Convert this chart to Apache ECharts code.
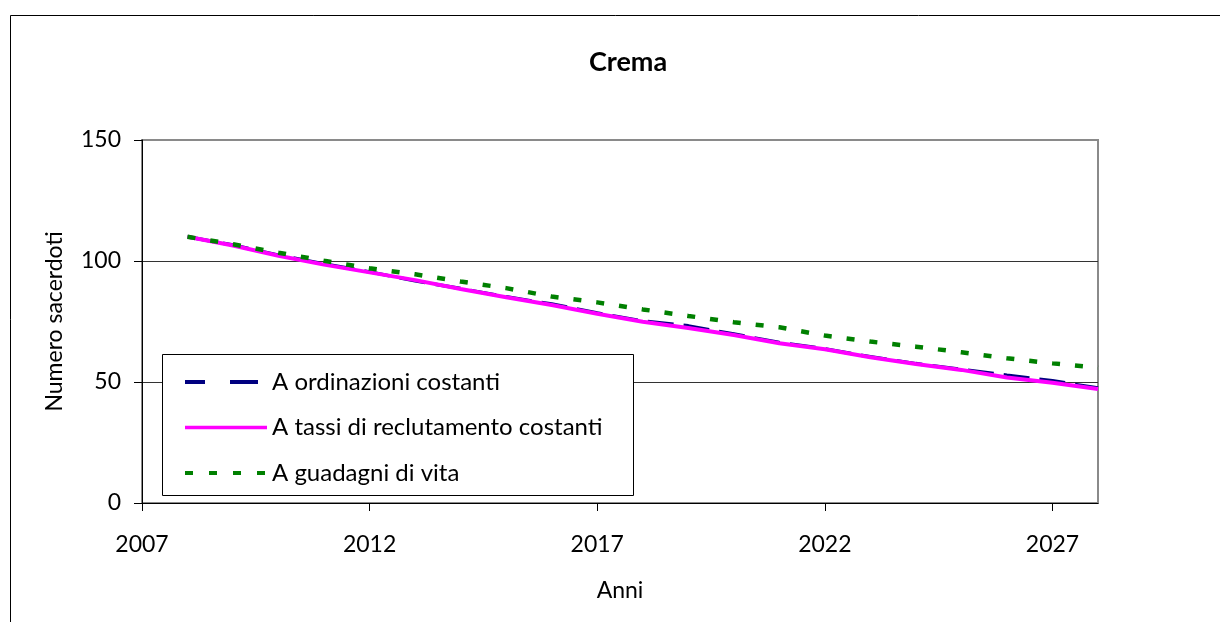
<!DOCTYPE html>
<html>
<head>
<meta charset="utf-8">
<script src="https://cdn.jsdelivr.net/npm/echarts@6/dist/echarts.min.js"></script>
<style>
html,body{margin:0;padding:0;background:#fff;}
#c{width:1220px;height:622px;}
</style>
</head>
<body>
<div id="c"></div>
<script>
var years = [2008,2009,2010,2011,2012,2013,2014,2015,2016,2017,2018,2019,2020,2021,2022,2023,2024,2025,2026,2027,2028];
var ordinazioniCostanti = [110,106.6,102.4,98.8,95.5,91.8,88.6,85.2,82.2,78.5,75.2,73.2,69.8,66.3,63.7,60.4,57.6,55.2,52.8,50.5,47.5];
var tassiReclutamento = [110,106.4,102.2,98.5,95.3,92.1,88.4,85.0,81.8,78.2,74.9,72.3,69.4,66.0,63.5,60.2,57.4,55.0,51.9,49.7,47.1];
var guadagniVita = [110,106.9,103.4,100.1,97.0,94.5,91.5,88.8,85.3,82.9,80.0,77.3,74.7,72.6,69.2,66.7,64.6,62.3,59.8,57.7,55.9];
var xTicks = [2007,2012,2017,2022,2027];
var seriesNames = ['A ordinazioni costanti','A tassi di reclutamento costanti','A guadagni di vita'];

function pairs(vals){ return years.map(function(y,i){ return [y, vals[i]]; }); }

var FONT = 'Lato';
var chart = echarts.init(document.getElementById('c'), null, {renderer:'canvas'});
chart.setOption({
  animation:false,
  backgroundColor:'#fff',
  textStyle:{fontFamily:FONT, color:'#000'},
  title:{
    text:'Crema', left:623, top:44, textAlign:'center',
    textStyle:{fontFamily:FONT, fontWeight:'bold', fontSize:27, color:'#000'}
  },
  graphic:[
    {type:'rect', z:0, silent:true, shape:{x:10.5, y:15.5, width:1300, height:700},
     style:{fill:null, stroke:'#000', lineWidth:1}},
    {type:'rect', z:50, silent:true, shape:{x:162.5, y:354.5, width:471, height:141},
     style:{fill:'#fff', stroke:'#000', lineWidth:1}}
  ],
  grid:{left:142, top:140, right:122, bottom:119, show:true, borderColor:'#8a8a8a', borderWidth:2, backgroundColor:'transparent'},
  legend:{
    orient:'vertical', left:162, top:354, z:60,
    padding:[15,17,10,21], itemWidth:82, itemHeight:26, itemGap:19.5,
    itemStyle:{opacity:0, borderWidth:0},
    lineStyle:{width:4},
    textStyle:{fontFamily:FONT, fontSize:24, color:'#000', lineHeight:26},
    data:[
      {name:seriesNames[0], lineStyle:{width:4, type:[20,25,28,9]}},
      {name:seriesNames[1], lineStyle:{width:3.5}},
      {name:seriesNames[2], lineStyle:{width:4, type:[8,16]}}
    ]
  },
  xAxis:{
    type:'value', min:2007, max:2028, interval:5,
    name:'Anni', nameLocation:'middle', nameGap:76,
    nameTextStyle:{fontFamily:FONT, fontSize:23, color:'#000'},
    axisLine:{show:true, onZero:false, lineStyle:{color:'#000', width:1}},
    axisTick:{show:true, inside:false, length:8, customValues:xTicks, lineStyle:{color:'#000'}},
    axisLabel:{margin:30, fontFamily:FONT, fontSize:23, color:'#000', customValues:xTicks,
      formatter:function(v){return String(v);}},
    splitLine:{show:false}
  },
  yAxis:{
    type:'value', min:0, max:150, interval:50,
    name:'Numero sacerdoti', nameLocation:'middle', nameGap:76, nameRotate:90,
    nameTextStyle:{fontFamily:FONT, fontSize:23, color:'#000'},
    axisLine:{show:true, lineStyle:{color:'#000', width:1}},
    axisTick:{show:true, inside:false, length:8, lineStyle:{color:'#000'}},
    axisLabel:{margin:21, fontFamily:FONT, fontSize:23, color:'#000'},
    splitLine:{show:true, showMaxLine:false, lineStyle:{color:'#333', width:1}}
  },
  series:[
    {name:seriesNames[0], type:'line', symbol:'none', data:pairs(ordinazioniCostanti), z:2,
     lineStyle:{color:'#000080', width:3.5, type:[26,10]}, itemStyle:{color:'#000080'}},
    {name:seriesNames[1], type:'line', symbol:'none', data:pairs(tassiReclutamento), z:3,
     lineStyle:{color:'#ff00ff', width:4}, itemStyle:{color:'#ff00ff'}},
    {name:seriesNames[2], type:'line', symbol:'none', data:pairs(guadagniVita), z:4,
     lineStyle:{color:'#008000', width:4.5, type:[8,15]}, itemStyle:{color:'#008000'}}
  ]
});
</script>
</body>
</html>
